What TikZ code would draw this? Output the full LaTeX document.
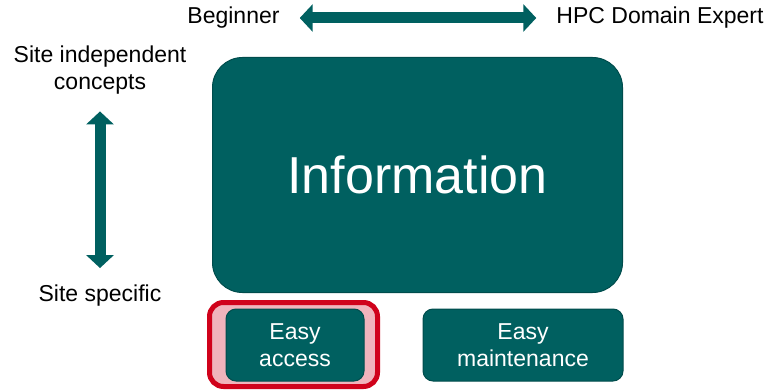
\documentclass[tikz,border=0pt]{standalone}
\usepackage{fontspec}
\setmainfont{Liberation Sans}
\usetikzlibrary{positioning}
\usetikzlibrary{arrows.meta}

\definecolor{tealfill}{RGB}{0,96,96}
\definecolor{tealline}{RGB}{0,76,76}
\definecolor{markred}{RGB}{208,2,27}
\definecolor{markpink}{RGB}{240,180,188}

\tikzset{
    sidetext/.style={inner sep=0, align=center, font=\fontsize{23}{27}\selectfont},
    infobox/.style={draw=tealline, fill=tealfill, text=white, line width=1pt,
        rounded corners=10pt, align=center, font=\fontsize{23}{27}\selectfont},
    bigarrow/.style={draw=tealfill, line width=11pt,
        {Triangle[width=27pt,length=13pt]}-{Triangle[width=27pt,length=13pt]}},
}

\begin{document}
\begin{tikzpicture}[x=1pt, y=-1pt]
    \useasboundingbox (0,0) rectangle (770,390);
    % nodes %
    \node[sidetext] (beg) at (233.5,18) {Beginner};
    \node[sidetext] (exp) at (660,18) {HPC Domain Expert};
    \node[sidetext] (indep) at (100,70) {Site independent\\concepts};
    \node[sidetext] (spec) at (100,296) {Site specific};
    \node[infobox, rounded corners=30pt, minimum width=410pt, minimum height=235pt,
        font=\fontsize{52}{60}\selectfont] (info) at (417.5,175) {Information};
    \node[draw=markred, fill=markpink, line width=5pt, rounded corners=14pt,
        minimum width=168pt, minimum height=84pt] (mark) at (293.5,344.5) {};
    \node[infobox, minimum width=138pt, minimum height=72pt] (access) at (295,345) {Easy\\access};
    \node[infobox, right = 58pt of access, minimum width=200pt, minimum height=72pt] (maint) {Easy\\maintenance};
    % edges %
    \draw[bigarrow, shorten <=20pt, shorten >=20pt] (beg) -- (exp);
    \draw[bigarrow, shorten <=17pt, shorten >=17pt] (indep) -- (spec);
\end{tikzpicture}
\end{document}
